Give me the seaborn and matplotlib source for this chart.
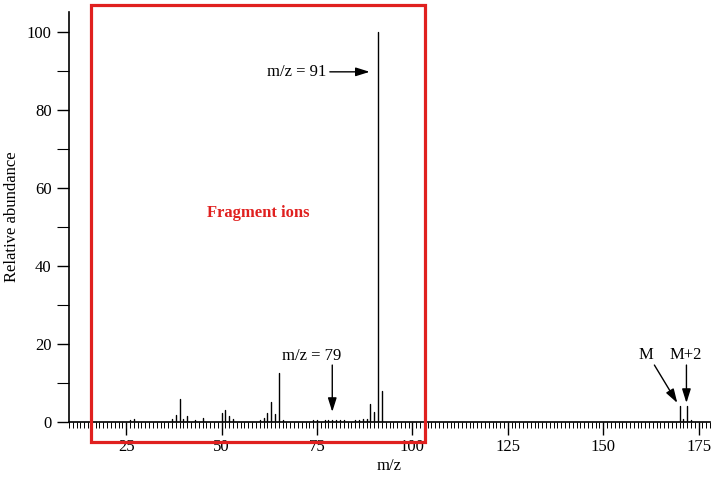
import matplotlib
matplotlib.use("Agg")
import matplotlib.pyplot as plt
from matplotlib.patches import Rectangle
from matplotlib.ticker import MultipleLocator
import numpy as np
import pandas as pd
import seaborn as sns

# ---- data ----
mz = [26, 27, 37, 38, 39, 40, 41, 43, 45, 50, 51, 52, 53,
      60, 61, 62, 63, 64, 65, 66, 74, 75, 77, 78, 79, 80, 81, 82,
      85, 86, 87, 88, 89, 90, 91, 92, 170, 171, 172, 173]
abundance = [0.5, 0.7, 0.7, 1.8, 5.9, 0.7, 1.5, 0.4, 1.0, 2.2, 3.1, 1.5, 0.7,
             0.5, 1.0, 2.2, 5.1, 2.0, 12.5, 0.6, 0.5, 0.6, 0.6, 0.5, 0.6, 0.6, 0.5, 0.5,
             0.5, 0.6, 0.7, 0.7, 4.6, 2.6, 100.0, 8.0, 4.2, 0.7, 4.2, 0.5]
y_ticks = [0, 20, 40, 60, 80, 100]
x_ticks = [25, 50, 75, 100, 125, 150, 175]
x_label = "m/z"
y_label = "Relative abundance"
box_label = "Fragment ions"

sns.set_theme(style="ticks")
plt.rcParams['font.family'] = ['Liberation Serif', 'DejaVu Serif']
plt.rcParams['text.color'] = 'black'
plt.rcParams['axes.labelcolor'] = 'black'

# stick table: each peak is a vertical segment from 0 to its abundance
rows = []
for m, a in zip(mz, abundance):
    rows.append({"mz": m, "val": 0.0})
    rows.append({"mz": m, "val": a})
df = pd.DataFrame(rows)

fig = plt.figure(figsize=(7.18, 4.84), dpi=100)
ax = fig.add_axes([0.096, 0.128, 0.893, 0.847])

sns.lineplot(data=df, x="mz", y="val", units="mz", estimator=None,
             color="black", linewidth=1.0, ax=ax, sort=False)

ax.set_xlim(10, 178)
ax.set_ylim(0, 105)
ax.set_xticks(x_ticks)
ax.xaxis.set_minor_locator(MultipleLocator(1))
ax.set_yticks(y_ticks)
ax.yaxis.set_minor_locator(MultipleLocator(10))
ax.tick_params(axis='both', which='major', labelsize=12, colors='black', width=1.0)
ax.tick_params(axis='x', which='major', length=9, direction='out')
ax.tick_params(axis='x', which='minor', length=4, width=0.7, direction='out', colors='black')
ax.tick_params(axis='y', which='major', length=9, direction='out')
ax.tick_params(axis='y', which='minor', length=9, width=0.8, direction='out', colors='black')
for s in ['top', 'right']:
    ax.spines[s].set_visible(False)
for s in ['left', 'bottom']:
    ax.spines[s].set_color('black')
    ax.spines[s].set_linewidth(1.2)
ax.set_xlabel(x_label, fontsize=12, labelpad=2)
ax.set_ylabel(y_label, fontsize=12, labelpad=5)

# red box
rect = Rectangle((15.9, -5.1), 103.3 - 15.9, 106.9 + 5.1, fill=False,
                 edgecolor='#e0201f', linewidth=2.3, clip_on=False, zorder=5)
ax.add_patch(rect)
ax.text(59.7, 53.6, box_label, color='#e0201f', fontsize=12, fontweight='bold',
        ha='center', va='center')

arrow = dict(arrowstyle='-|>,head_length=0.7,head_width=0.22', color='black',
             lw=1.0, mutation_scale=12, shrinkA=0, shrinkB=0)
ax.annotate("m/z = 91", xy=(88.8, 89.7), xytext=(77.5, 89.7), fontsize=12,
            ha='right', va='center', arrowprops=arrow)
ax.annotate("", xy=(79, 2.6), xytext=(79, 14.6), arrowprops=arrow)
ax.text(73.5, 17.0, "m/z = 79", fontsize=12, ha='center', va='center')
ax.annotate("", xy=(169.4, 4.9), xytext=(163.4, 14.6), arrowprops=arrow)
ax.text(161.2, 17.2, "M", fontsize=12, ha='center', va='center')
ax.annotate("", xy=(171.8, 4.9), xytext=(171.8, 14.6), arrowprops=arrow)
ax.text(171.6, 17.2, "M+2", fontsize=12, ha='center', va='center')

fig.savefig("out.png", dpi=100)
